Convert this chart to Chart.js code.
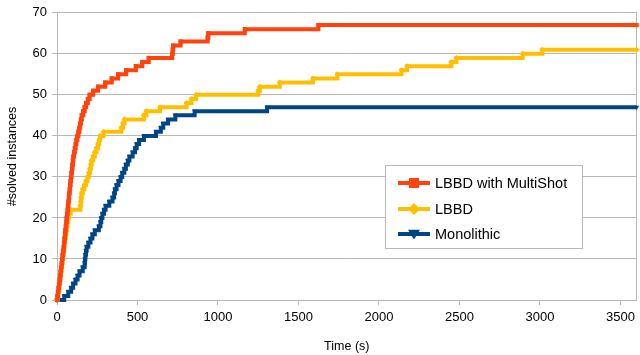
<!DOCTYPE html>
<html>
<head>
<meta charset="utf-8">
<script src="https://cdn.jsdelivr.net/npm/chart.js@4/dist/chart.umd.min.js"></script>
<style>
  body { margin: 0; background: #fff; }
  #wrap { width: 640px; height: 355px; position: relative; }
</style>
</head>
<body>
<div id="wrap"><canvas id="chart"></canvas></div>
<script>
// solve times (s) and cumulative #solved instances
const multiShotTimes = [0, 3, 6, 10, 13, 17, 20, 23, 26, 29, 32, 35, 39, 42, 44, 47, 50, 52, 55, 58, 60,
  63, 66, 68, 71, 74, 76, 79, 82, 84, 87, 90, 93, 96, 99, 102, 106, 111, 116, 121, 127,
  133, 139, 144, 149, 154, 163, 172, 181, 192, 203, 225, 255, 300, 340, 380, 430, 490, 530, 570,
  716, 719, 722, 768, 936, 940, 1167, 1624, 3600];
const multiShotSolved = [0, 1, 2, 3, 4, 5, 6, 7, 8, 9, 10, 11, 12, 13, 14, 15, 16, 17, 18, 19, 20,
  21, 22, 23, 24, 25, 26, 27, 28, 29, 30, 31, 32, 33, 34, 35, 36, 37, 38, 39, 40,
  41, 42, 43, 44, 45, 46, 47, 48, 49, 50, 51, 52, 53, 54, 55, 56, 57, 58, 59,
  60, 61, 62, 63, 64, 65, 66, 67, 67];

const lbbdTimes = [0, 4, 8, 11, 14, 18, 21, 24, 27, 31, 34, 37, 40, 44, 47, 50, 54, 57, 61, 65, 69,
  75, 85, 145, 148, 150, 153, 160, 170, 180, 190, 198, 205, 210, 215, 225, 235, 245, 255, 262, 268,
  290, 400, 410, 420, 540, 555, 640, 805, 835, 865, 1250, 1260, 1384, 1590, 1742, 2140, 2175,
  2450, 2481, 2893, 3015, 3600];
const lbbdSolved = [0, 1, 2, 3, 4, 5, 6, 7, 8, 9, 10, 11, 12, 13, 14, 15, 16, 17, 18, 19, 20,
  21, 22, 23, 24, 25, 26, 27, 28, 29, 30, 31, 32, 33, 34, 35, 36, 37, 38, 39, 40,
  41, 42, 43, 44, 45, 46, 47, 48, 49, 50, 51, 52, 53, 54, 55, 56, 57,
  58, 59, 60, 61, 61];

const monoTimes = [0, 45, 70, 88, 100, 115, 128, 140, 160, 172, 174, 176, 180, 184, 195, 208, 220, 235,
  260, 270, 275, 282, 292, 302, 325, 345, 355, 360, 370, 382, 395, 405, 418, 428, 440, 450,
  470, 485, 495, 510, 540, 615, 645, 660, 690, 735, 855, 1305, 3600];
const monoSolved = [0, 1, 2, 3, 4, 5, 6, 7, 8, 9, 10, 11, 12, 13, 14, 15, 16, 17,
  18, 19, 20, 21, 22, 23, 24, 25, 26, 27, 28, 29, 30, 31, 32, 33, 34, 35,
  36, 37, 38, 39, 40, 41, 42, 43, 44, 45, 46, 47, 47];

const seriesNames = ['LBBD with MultiShot', 'LBBD', 'Monolithic'];
const xTickValues = [0, 500, 1000, 1500, 2000, 2500, 3000, 3500];
const yTickValues = [0, 10, 20, 30, 40, 50, 60, 70];

const RED = '#ff420e', YELLOW = '#ffbf00', BLUE = '#004586', GRID = '#b8b8b8';
const FONT = "'Liberation Sans', Arial, sans-serif";

function toPoints(xs, ys) {
  return xs.map((x, i) => ({ x, y: ys[i] }));
}

function series(label, xs, ys, color, style, rotation) {
  return {
    label,
    data: toPoints(xs, ys),
    borderColor: color,
    backgroundColor: color,
    borderWidth: 4,
    stepped: 'before',
    fill: false,
    pointStyle: style,
    pointRotation: rotation,
    pointRadius: 3,
    pointBorderWidth: 0,
    pointBackgroundColor: color,
    pointHoverRadius: 3,
    clip: false,
  };
}

function marker(ctx, style, x, y, r) {
  ctx.beginPath();
  if (style === 'rect') {
    ctx.rect(x - r, y - r, 2 * r, 2 * r);
  } else if (style === 'rectRot') {
    ctx.moveTo(x, y - r); ctx.lineTo(x + r, y); ctx.lineTo(x, y + r); ctx.lineTo(x - r, y);
  } else {
    ctx.moveTo(x - r, y - r * 0.7); ctx.lineTo(x + r, y - r * 0.7); ctx.lineTo(x, y + r * 0.9);
  }
  ctx.closePath();
  ctx.fill();
}

// legend box sitting inside the plot, like the original
const boxLegend = {
  id: 'boxLegend',
  afterDraw(chart) {
    const ctx = chart.ctx;
    const bx = 385, by = 165, bw = 197, bh = 83;
    const rows = [183, 209, 234];
    ctx.save();
    ctx.fillStyle = '#fff';
    ctx.fillRect(bx, by, bw, bh);
    ctx.strokeStyle = GRID;
    ctx.lineWidth = 1;
    ctx.strokeRect(bx + 0.5, by + 0.5, bw, bh);
    chart.data.datasets.forEach((ds, i) => {
      const y = rows[i];
      ctx.strokeStyle = ds.borderColor;
      ctx.lineWidth = 4;
      ctx.beginPath();
      ctx.moveTo(398, y);
      ctx.lineTo(430, y);
      ctx.stroke();
      ctx.fillStyle = ds.borderColor;
      marker(ctx, ds.pointStyle, 414, y, ds.pointStyle === 'rect' ? 5 : 6);
      ctx.fillStyle = '#000';
      ctx.font = '14.5px ' + FONT;
      ctx.textBaseline = 'middle';
      ctx.fillText(ds.label, 435, y + 1);
    });
    ctx.restore();
  },
};

Chart.defaults.font.family = FONT;
Chart.defaults.color = '#000';

new Chart(document.getElementById('chart'), {
  type: 'line',
  data: {
    datasets: [
      series(seriesNames[0], multiShotTimes, multiShotSolved, RED, 'rect', 0),
      series(seriesNames[1], lbbdTimes, lbbdSolved, YELLOW, 'rectRot', 0),
      series(seriesNames[2], monoTimes, monoSolved, BLUE, 'triangle', 180),
    ],
  },
  options: {
    responsive: true,
    maintainAspectRatio: false,
    animation: false,
    layout: { padding: { top: 5, right: 3, left: 0, bottom: 0 } },
    plugins: { legend: { display: false }, tooltip: { enabled: false } },
    scales: {
      x: {
        type: 'linear',
        min: 0,
        max: 3600,
        afterFit: (axis) => { axis.height = 55; },
        afterBuildTicks: (axis) => { axis.ticks = xTickValues.map((v) => ({ value: v })); },
        ticks: { font: { size: 13 }, padding: 5, maxRotation: 0, callback: (v) => String(v) },
        grid: { drawOnChartArea: false, tickLength: 5, color: GRID },
        border: { color: GRID },
        title: { display: true, text: 'Time (s)', font: { size: 12.5 }, padding: { top: 0, bottom: 1 } },
      },
      y: {
        min: 0,
        max: 70,
        afterFit: (axis) => { axis.width = 57; },
        afterBuildTicks: (axis) => { axis.ticks = yTickValues.map((v) => ({ value: v })); },
        ticks: { font: { size: 13 }, padding: 5 },
        grid: { tickLength: 5, color: GRID },
        border: { color: GRID },
        title: { display: true, text: '#solved instances', font: { size: 12.5 }, padding: { top: 5, bottom: 0 } },
      },
      y2: {
        position: 'right',
        min: 0,
        max: 70,
        afterFit: (axis) => { axis.width = 0; },
        ticks: { display: false },
        grid: { drawOnChartArea: false, drawTicks: false },
        border: { color: GRID },
      },
    },
  },
  plugins: [boxLegend],
});
</script>
</body>
</html>
